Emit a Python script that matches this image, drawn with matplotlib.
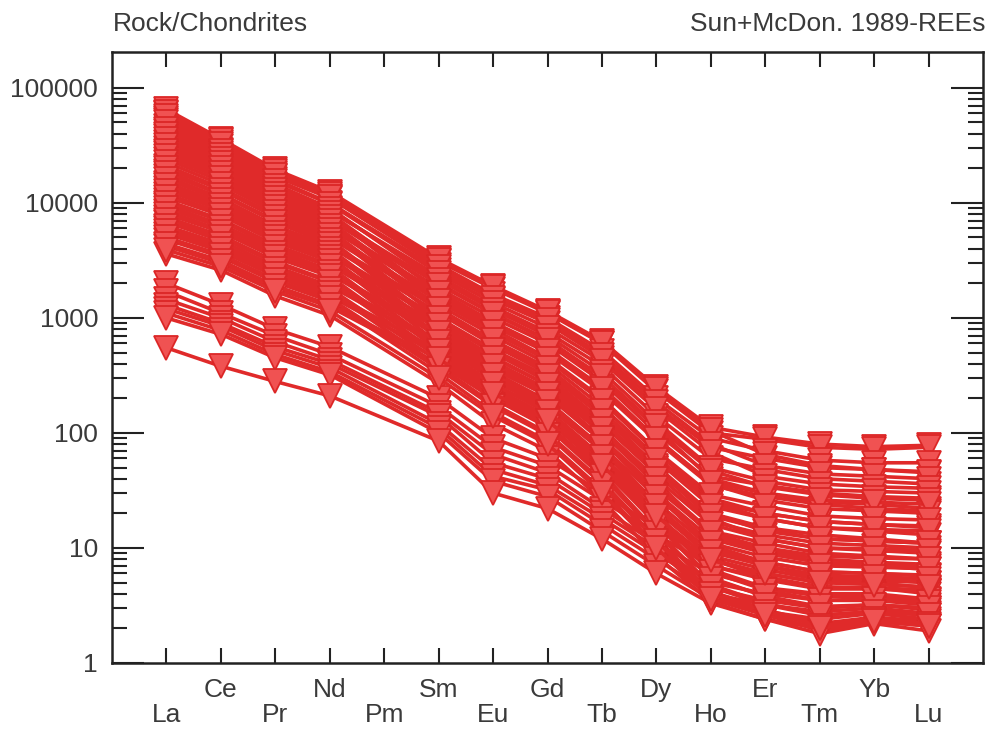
import matplotlib
matplotlib.use("Agg")
import matplotlib.pyplot as plt
from matplotlib.ticker import FixedLocator, NullFormatter
import numpy as np
import pandas as pd


# element order on the x axis (Pm has no data, lines jump from Nd to Sm)
elements = ["La", "Ce", "Pr", "Nd", "Pm", "Sm", "Eu", "Gd",
            "Tb", "Dy", "Ho", "Er", "Tm", "Yb", "Lu"]

# chondrite-normalised values, one entry per sample
La = [65000, 60000, 55000, 52000, 47000, 42000, 38000, 34000, 30000, 27000,
      24000, 21000, 19000, 17000, 15000, 13500, 12000, 10500, 9500, 8500,
      7500, 6800, 6000, 5400, 4800, 4200, 3600, 2000, 1700, 1450,
      1300, 1200, 1100, 1000, 550,
      62000, 57000, 50000, 44000, 40000, 36000, 32000, 28500, 25500, 22500,
      20000, 18000, 16000, 14300, 12800, 11300, 10000, 9000, 8000, 7100,
      6300, 5700, 5000, 4400, 3900]
Ce = [36000, 34000, 31000, 29000, 27000, 25000, 23000, 21000, 19000, 17000,
      15500, 13500, 12000, 11000, 10000, 9000, 8200, 7200, 6500, 5800,
      5200, 4700, 4200, 3800, 3400, 3000, 2600, 1300, 1100, 1000,
      900, 850, 780, 720, 380,
      35000, 32500, 28500, 26000, 24000, 22000, 20000, 18000, 16500, 14500,
      13000, 11800, 10600, 9500, 8700, 7800, 7000, 6200, 5600, 5000,
      4400, 4000, 3550, 3150, 2800]
Pr = [19500, 18000, 17000, 16000, 14500, 13500, 12500, 11500, 10500, 9500,
      8800, 7800, 7000, 6300, 5800, 5200, 4800, 4300, 3900, 3500,
      3100, 2800, 2500, 2300, 2050, 1800, 1550, 800, 700, 620,
      560, 520, 480, 450, 280,
      19000, 17500, 15500, 14000, 13000, 12000, 11000, 10000, 9200, 8300,
      7500, 6800, 6100, 5500, 5000, 4600, 4100, 3700, 3350, 3000,
      2650, 2400, 2150, 1900, 1700]
Nd = [12500, 11500, 11000, 10000, 9000, 8500, 7800, 7200, 6600, 6000,
      5500, 5000, 4600, 4200, 3800, 3500, 3200, 2900, 2600, 2400,
      2100, 1900, 1700, 1550, 1400, 1250, 1050, 560, 480, 430,
      400, 370, 340, 320, 210,
      12000, 11200, 9800, 8800, 8100, 7500, 6900, 6300, 5800, 5300,
      4800, 4400, 4000, 3700, 3400, 3100, 2800, 2500, 2300, 2050,
      1800, 1650, 1480, 1300, 1150]
Sm = [3300, 3100, 2900, 2600, 2000, 2300, 1500, 1800, 1200, 1550,
      1000, 1300, 850, 1100, 700, 950, 600, 800, 520, 700,
      450, 580, 380, 480, 330, 400, 270, 200, 170, 150,
      140, 120, 110, 100, 85,
      3200, 2750, 2450, 2150, 1700, 1950, 1400, 1650, 1150, 1400,
      900, 1200, 780, 1000, 660, 870, 560, 740, 480, 620,
      420, 520, 360, 440, 300]
Eu = [1900, 1800, 1600, 1450, 1100, 1250, 800, 1000, 620, 850,
      500, 700, 420, 580, 340, 500, 290, 420, 250, 360,
      210, 300, 180, 240, 150, 200, 120, 90, 75, 65,
      55, 48, 42, 38, 30,
      1850, 1500, 1350, 1180, 920, 1080, 750, 900, 600, 760,
      460, 640, 390, 530, 320, 450, 270, 380, 230, 320,
      200, 265, 170, 220, 140]
Gd = [1150, 1100, 1000, 900, 650, 750, 450, 600, 350, 500,
      280, 400, 230, 330, 190, 290, 160, 240, 140, 210,
      120, 170, 100, 140, 85, 115, 70, 60, 52, 45,
      40, 35, 32, 28, 22,
      1120, 950, 820, 700, 540, 640, 430, 520, 340, 440,
      260, 370, 220, 310, 180, 260, 150, 220, 130, 185,
      112, 152, 96, 128, 80]
Tb = [630, 600, 520, 450, 300, 380, 200, 280, 150, 230,
      110, 170, 90, 140, 75, 120, 62, 100, 55, 85,
      45, 70, 38, 58, 32, 48, 26, 30, 26, 22,
      20, 18, 16, 14, 12,
      610, 480, 420, 340, 250, 310, 190, 240, 145, 190,
      105, 155, 88, 128, 70, 108, 58, 90, 50, 76,
      42, 62, 36, 52, 30]
Dy = [250, 230, 200, 170, 110, 140, 70, 100, 50, 85,
      38, 62, 30, 50, 24, 44, 20, 36, 17, 30,
      14, 25, 12, 21, 10.5, 17, 8.5, 15, 13, 11,
      10, 9, 8, 7, 6,
      240, 185, 160, 125, 90, 115, 68, 88, 52, 70,
      36, 58, 29, 47, 23, 40, 18.5, 33, 16, 28,
      13.5, 23, 11.5, 19, 10]
Ho = [112, 100, 90, 75, 40, 60, 25, 42, 18, 35,
      13, 25, 10, 20, 8, 17, 6.5, 14, 5.5, 12,
      4.8, 10, 4.2, 8.5, 3.8, 7, 3.4, 8, 7, 6,
      5, 4.5, 4, 3.6, 3.3,
      105, 80, 68, 50, 36, 47, 27, 37, 20, 29,
      13, 23, 10.5, 19, 8, 16, 6.2, 13.5, 5.4, 11,
      4.6, 9.2, 4, 7.8, 3.6]
Er = [92, 88, 70, 60, 30, 48, 18, 35, 12, 28,
      9, 20, 7, 15, 5.5, 13, 4.5, 11, 3.8, 9,
      3.3, 7.5, 2.9, 6.5, 2.7, 5.3, 2.4, 6, 5.5, 4.5,
      4, 3.5, 3.2, 2.8, 2.4,
      65, 52, 42, 38, 26, 34, 20, 30, 14, 23,
      9.5, 18, 7.5, 14.5, 5.6, 12, 4.3, 10, 3.8, 8.3,
      3.2, 7, 2.8, 6, 2.6]
Tm = [80, 75, 58, 50, 25, 40, 15, 30, 10, 24,
      7.5, 17, 5.5, 13, 4.5, 11, 3.8, 9, 3, 7.5,
      2.6, 6.2, 2.2, 5.3, 1.9, 4.4, 1.8, 5, 4.5, 4,
      3.5, 3, 2.8, 2.4, 2.0,
      52, 44, 36, 32, 22, 29, 17, 26, 12, 19,
      8, 15, 6.2, 12, 4.6, 10, 3.5, 8.5, 3.1, 7,
      2.6, 5.8, 2.1, 5, 2]
Yb = [76, 72, 55, 48, 24, 38, 14, 28, 9.5, 22,
      7, 16, 5.5, 12, 4.5, 10.5, 3.8, 8.5, 3.2, 7.2,
      2.8, 6, 2.5, 5.2, 2.3, 4.4, 2.2, 5, 4.5, 4,
      3.5, 3.2, 3, 2.7, 2.4,
      48, 42, 34, 31, 21, 27, 16, 25, 11.5, 18,
      7.5, 14.5, 6, 11.5, 4.5, 9.8, 3.6, 8.2, 3.2, 6.8,
      2.8, 5.6, 2.4, 4.8, 2.3]
Lu = [78, 75, 55, 45, 22, 36, 13, 27, 9, 21,
      6.5, 15, 5, 11, 4.2, 10, 3.5, 8, 3, 7,
      2.6, 5.8, 2.3, 5, 2.1, 4.2, 1.9, 4.5, 4, 3.6,
      3.2, 2.9, 2.7, 2.4, 2.1,
      46, 40, 33, 30, 20, 26, 15.5, 24, 11, 17.5,
      7.2, 14, 5.7, 11, 4.3, 9.5, 3.4, 8, 3, 6.6,
      2.6, 5.4, 2.2, 4.6, 2.1]

y_ticks = [1, 10, 100, 1000, 10000, 100000]


def build_table():
    # one column per element, NaN for Pm so the line skips it
    data = pd.DataFrame({"La": La, "Ce": Ce, "Pr": Pr, "Nd": Nd, "Sm": Sm,
                         "Eu": Eu, "Gd": Gd, "Tb": Tb, "Dy": Dy, "Ho": Ho,
                         "Er": Er, "Tm": Tm, "Yb": Yb, "Lu": Lu})
    data["Pm"] = np.nan
    return data[elements]


def plot_data(data):
    plt.rcParams["font.family"] = ["Liberation Sans", "DejaVu Sans"]
    text_col = "#3a3a3a"
    axis_col = "#222222"

    fig = plt.figure(figsize=(9.9, 7.32), dpi=100)
    ax = fig.add_axes([0.1131, 0.0943, 0.8799, 0.8347])

    x = np.arange(1, len(elements) + 1)
    has_data = ~data.isna().all().values
    for _, row in data.iterrows():
        vals = row.values.astype(float)
        ax.plot(x[has_data], vals[has_data], "-v", color="#e02a2a", lw=2.6,
                markersize=17, markerfacecolor="#f05252",
                markeredgecolor="#dc2626", markeredgewidth=1.3)

    ax.set_yscale("log")
    ax.set_ylim(1, 2.05e5)
    ax.set_xlim(0, 16)

    ax.yaxis.set_major_locator(FixedLocator(y_ticks))
    ax.set_yticklabels([str(v) for v in y_ticks])
    minors = [m * 10 ** d for d in range(0, 5) for m in range(2, 10)]
    ax.yaxis.set_minor_locator(FixedLocator(minors))
    ax.yaxis.set_minor_formatter(NullFormatter())

    # element names on two staggered rows
    ax.set_xticks(x)
    ax.set_xticklabels(elements)
    for i, lab in enumerate(ax.get_xticklabels()):
        if i % 2 == 0:
            lab.set_y(-0.041)

    ax.tick_params(axis="x", which="both", direction="in", top=True,
                   length=11, width=1.5, pad=11, labelsize=19,
                   labelcolor=text_col, color=axis_col)
    ax.tick_params(axis="y", which="major", direction="in", right=True,
                   length=23, width=1.5, pad=10, labelsize=19,
                   labelcolor=text_col, color=axis_col)
    ax.tick_params(axis="y", which="minor", direction="in", right=True,
                   length=11, width=1.5, color=axis_col)
    for sp in ax.spines.values():
        sp.set_linewidth(1.8)
        sp.set_color(axis_col)

    fig.text(0.114, 0.958, "Rock/Chondrites", fontsize=19, color=text_col,
             ha="left", va="baseline")
    fig.text(0.995, 0.958, "Sun+McDon. 1989-REEs", fontsize=19,
             color=text_col, ha="right", va="baseline")

    fig.savefig("out.png", dpi=100)


def main():
    data = build_table()
    plot_data(data)


if __name__ == "__main__":
    main()
